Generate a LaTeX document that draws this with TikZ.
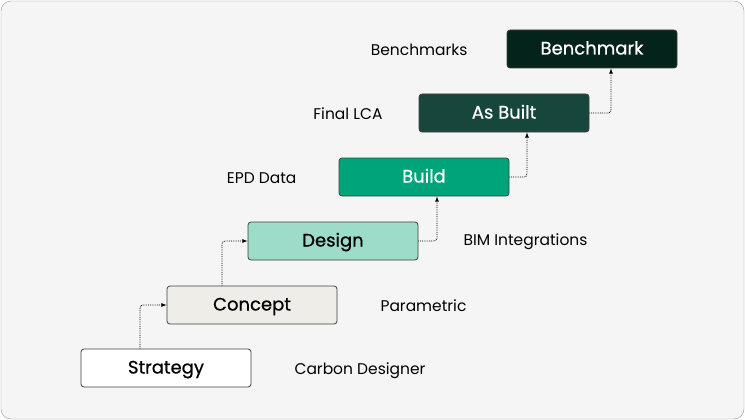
\documentclass[tikz,border=0pt]{standalone}
\usepackage{fontspec}
\setmainfont{Poppins}
\begin{document}
\begin{tikzpicture}[x=1pt,y=-1pt,
 box/.style={draw=black!75,rounded corners=3pt,minimum width=170pt,minimum height=38pt,text height=15pt,text depth=4pt,font=\fontsize{18}{20}\selectfont\addfontfeature{FakeBold=0.7},line width=0.8pt},
 lbl/.style={font=\fontsize{15.5}{18}\selectfont},
 con/.style={densely dotted,line width=0.8pt,-latex,rounded corners=3pt}]
\definecolor{c1}{HTML}{EFEDE8}\definecolor{c2}{HTML}{9CDCC8}\definecolor{c3}{HTML}{00A47A}
\definecolor{c4}{HTML}{17473C}\definecolor{c5}{HTML}{04231A}
\useasboundingbox (0,0) rectangle (745,420);
\draw[fill=black!4,draw=black!40,rounded corners=10pt] (1,1) rectangle (744,419);
\node[box,fill=white] (s) at (166,368) {Strategy};
\node[box,fill=c1] (c) at (252,305) {Concept};
\node[box,fill=c2] (d) at (333,241) {Design};
\node[box,fill=c3,text=white] (b) at (424,177) {Build};
\node[box,fill=c4,text=white] (a) at (504,113) {As Built};
\node[box,fill=c5,text=white] (m) at (592,49) {Benchmark};
\node[lbl,anchor=west] at (291,371) {Carbon Designer};
\node[lbl,anchor=west] at (377,306) {Parametric};
\node[lbl,anchor=west] at (460,242) {BIM Integrations};
\node[lbl,anchor=east] at (300,178) {EPD Data};
\node[lbl,anchor=east] at (386,114) {Final LCA};
\node[lbl,anchor=east] at (471,50) {Benchmarks};
\draw[con] (s.north -| 140,0) |- (c.west);
\draw[con] (c.north -| 222,0) |- (d.west);
\draw[con] (d.east) -| (b.south -| 437,0);
\draw[con] (b.east) -| (a.south -| 527,0);
\draw[con] (a.east) -| (m.south -| 611,0);
\end{tikzpicture}
\end{document}
